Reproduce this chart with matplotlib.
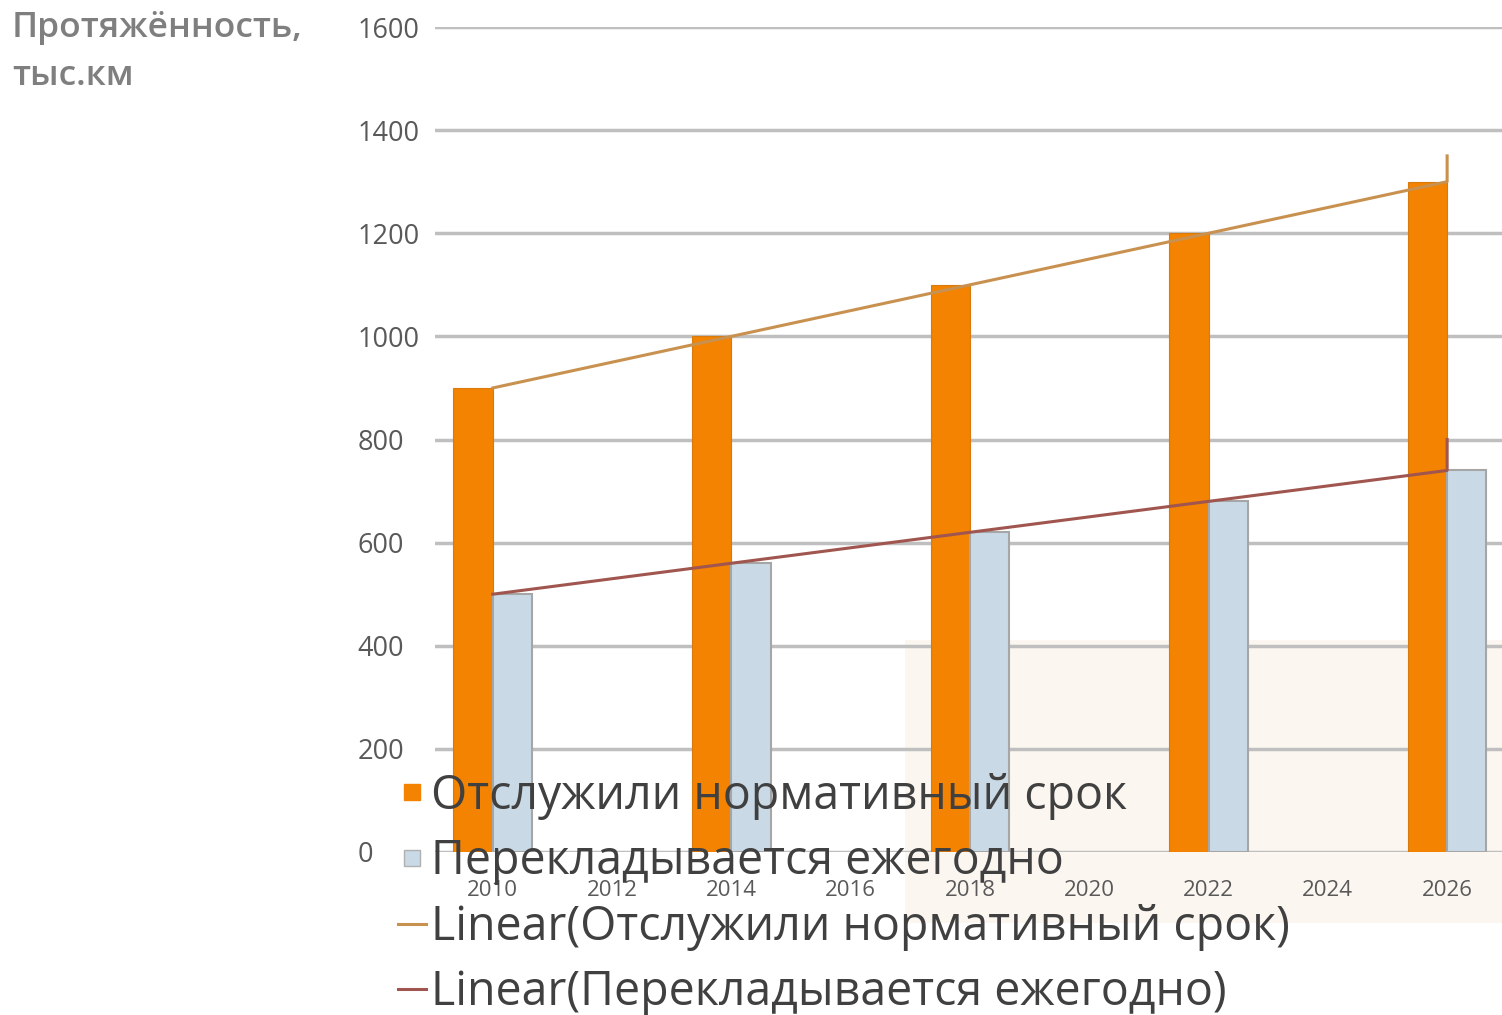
import numpy as np
import matplotlib
matplotlib.use("Agg")
import matplotlib.pyplot as plt
from matplotlib.patches import Rectangle
from matplotlib.lines import Line2D

plt.rcParams['font.family'] = ['Open Sans', 'DejaVu Sans']

years = [2010, 2014, 2018, 2022, 2026]
served = [900, 1000, 1100, 1200, 1300]
relaid = [500, 560, 620, 680, 740]
trend_tail = [1350, 800]
xticks = list(range(2010, 2027, 2))
yticks = list(range(0, 1601, 200))
labels = ["Отслужили нормативный срок", "Перекладывается ежегодно",
          "Linear(Отслужили нормативный срок)", "Linear(Перекладывается ежегодно)"]

c_or = "#F38300"
c_bl = "#C9DAE6"
c_tr1 = "#C8914F"
c_tr2 = "#A0564F"
grid_c = "#BFBFBF"

fig = plt.figure(figsize=(15.02, 10.15), dpi=100)

# faint background watermark area
wm = Rectangle((905/1502, 1-923/1015), (1502-905)/1502, (923-640)/1015,
               transform=fig.transFigure, facecolor="#FCF6F1", edgecolor="none", zorder=0)
fig.patches.append(wm)

ax = fig.add_axes([435/1502, 1-852/1015, 1-435/1502, (852-27)/1015])
ax.set_zorder(1)
ax.patch.set_alpha(0)

w = 0.66
yrs = np.array(years, dtype=float)
ax.bar(yrs - w/2, served, width=w, color=c_or, edgecolor="#D77A10", linewidth=0.8, zorder=3)
ax.bar(yrs + w/2, relaid, width=w, color=c_bl, edgecolor="#A6A6A6", linewidth=1.5, zorder=3)

for vals, tail, col in ((served, trend_tail[0], c_tr1), (relaid, trend_tail[1], c_tr2)):
    k, b = np.polyfit(yrs, vals, 1)
    fit = k*yrs + b
    ax.plot(list(yrs) + [yrs[-1]], list(fit) + [tail], color=col, lw=2.2, zorder=4)

ax.set_ylim(0, 1600)
ax.set_xlim(2009.03, 2026.92)
ax.set_yticks(yticks)
ax.set_xticks(xticks)
ax.grid(axis='y', color=grid_c, lw=2.5, zorder=0)
ax.set_axisbelow(True)
for s in ax.spines.values():
    s.set_visible(False)
ax.tick_params(length=0, colors="#595959")
ax.tick_params(axis='y', labelsize=19.5, pad=56)
ax.tick_params(axis='x', labelsize=16, pad=20)
for t in ax.get_yticklabels():
    t.set_horizontalalignment('left')

fig.text(12/1502, 1-28/1015, "Протяжённость,", fontsize=25.5, color="#7F7F7F",
         va="center", ha="left", fontweight="semibold")
fig.text(12/1502, 1-76/1015, "тыс.км", fontsize=25.5, color="#7F7F7F",
         va="center", ha="left", fontweight="semibold")

handles = [Line2D([0], [0], marker='s', linestyle='none', markersize=11,
                  markerfacecolor=c_or, markeredgecolor=c_or),
           Line2D([0], [0], marker='s', linestyle='none', markersize=11,
                  markerfacecolor=c_bl, markeredgecolor="#B0B0B0"),
           Line2D([0], [0], color=c_tr1, lw=2.2),
           Line2D([0], [0], color=c_tr2, lw=2.2)]
leg = fig.legend(handles, labels, loc="upper left", bbox_to_anchor=(398/1502, 1-772/1015),
                 frameon=False, fontsize=33.5, handlelength=0.6,
                 handletextpad=0.1, labelspacing=0.39, borderpad=0, borderaxespad=0)
leg.set_zorder(5)
for t in leg.get_texts():
    t.set_color("#404040")

fig.savefig("out.png", dpi=100)
